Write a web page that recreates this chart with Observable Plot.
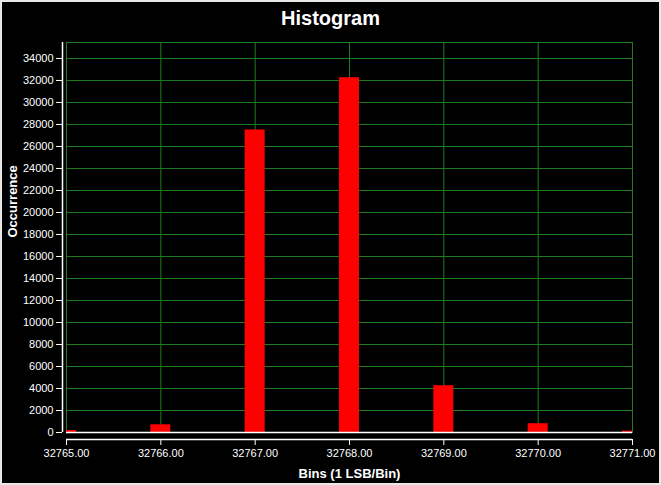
<!DOCTYPE html>
<html>
<head>
<meta charset="utf-8">
<script src="https://cdn.jsdelivr.net/npm/d3@7"></script>
<script src="https://cdn.jsdelivr.net/npm/@observablehq/plot@0.6"></script>
<style>
  html, body { margin: 0; padding: 0; background: #e8e8e8; }
  #wrap {
    width: 661px; height: 485px; box-sizing: border-box;
    border: 2px solid #e8e8e8; background: #000; overflow: hidden;
    font-family: "Liberation Sans", Arial, sans-serif;
  }
  #title {
    height: 30px; box-sizing: border-box; padding-top: 2px;
    line-height: 28px; text-align: center; color: #fff;
    font-size: 20px; font-weight: bold;
  }
  #chart svg { display: block; }
</style>
</head>
<body>
<div id="wrap">
  <div id="title">Histogram</div>
  <div id="chart"></div>
</div>
<script>
const bins = [32765, 32766, 32767, 32768, 32769, 32770, 32771];
const counts = [180, 700, 27500, 32250, 4250, 800, 120];
const xTicks = [32765, 32766, 32767, 32768, 32769, 32770, 32771];
const yTicks = [0, 2000, 4000, 6000, 8000, 10000, 12000, 14000, 16000, 18000,
                20000, 22000, 24000, 26000, 28000, 30000, 32000, 34000];
const gridYTicks = yTicks.filter(v => v > 0);
const xTitle = "Bins (1 LSB/Bin)";
const yTitle = "Occurrence";

const data = bins.map((b, i) => ({bin: b, count: counts[i]}));
const halfWidth = 0.106;
const gridColor = "#1f7f1f";

const chart = Plot.plot({
  width: 657,
  height: 451,
  marginTop: 10,
  marginBottom: 51,
  marginLeft: 64,
  marginRight: 27,
  style: {
    background: "black",
    color: "white",
    fontSize: "11px",
    fontFamily: "'Liberation Sans', Arial, sans-serif"
  },
  x: {domain: [32765, 32771], label: null},
  y: {domain: [0, 35450], label: null},
  marks: [
    Plot.gridX(xTicks, {stroke: gridColor, strokeOpacity: 1}),
    Plot.gridY(gridYTicks, {stroke: gridColor, strokeOpacity: 1}),
    Plot.frame({stroke: gridColor}),
    Plot.rectY(data, {
      x1: d => d.bin - halfWidth,
      x2: d => d.bin + halfWidth,
      y: "count",
      fill: "#ff0000",
      clip: true
    }),
    Plot.ruleY([0], {stroke: "white", strokeWidth: 1.5}),
    Plot.ruleY([0], {stroke: "white", strokeWidth: 1.5, dy: 7}),
    Plot.ruleX([32765], {stroke: "white", strokeWidth: 1.5, dx: -4}),
    Plot.axisX(xTicks, {
      tickSize: 6, tickPadding: 4, dy: 7, label: null,
      tickFormat: d3.format(".2f"), stroke: "white", fill: "white"
    }),
    Plot.axisY(yTicks, {
      tickSize: 6, tickPadding: 3, dx: -4, label: null,
      tickFormat: d => String(d), stroke: "white", fill: "white"
    }),
    Plot.text([xTitle], {
      frameAnchor: "bottom", dy: 41, lineAnchor: "middle",
      fill: "white", fontSize: 13, fontWeight: "bold"
    }),
    Plot.text([yTitle], {
      frameAnchor: "left", dx: -54, rotate: -90, lineAnchor: "middle",
      fill: "white", fontSize: 13, fontWeight: "bold"
    })
  ]
});
document.getElementById("chart").appendChild(chart);
</script>
</body>
</html>
